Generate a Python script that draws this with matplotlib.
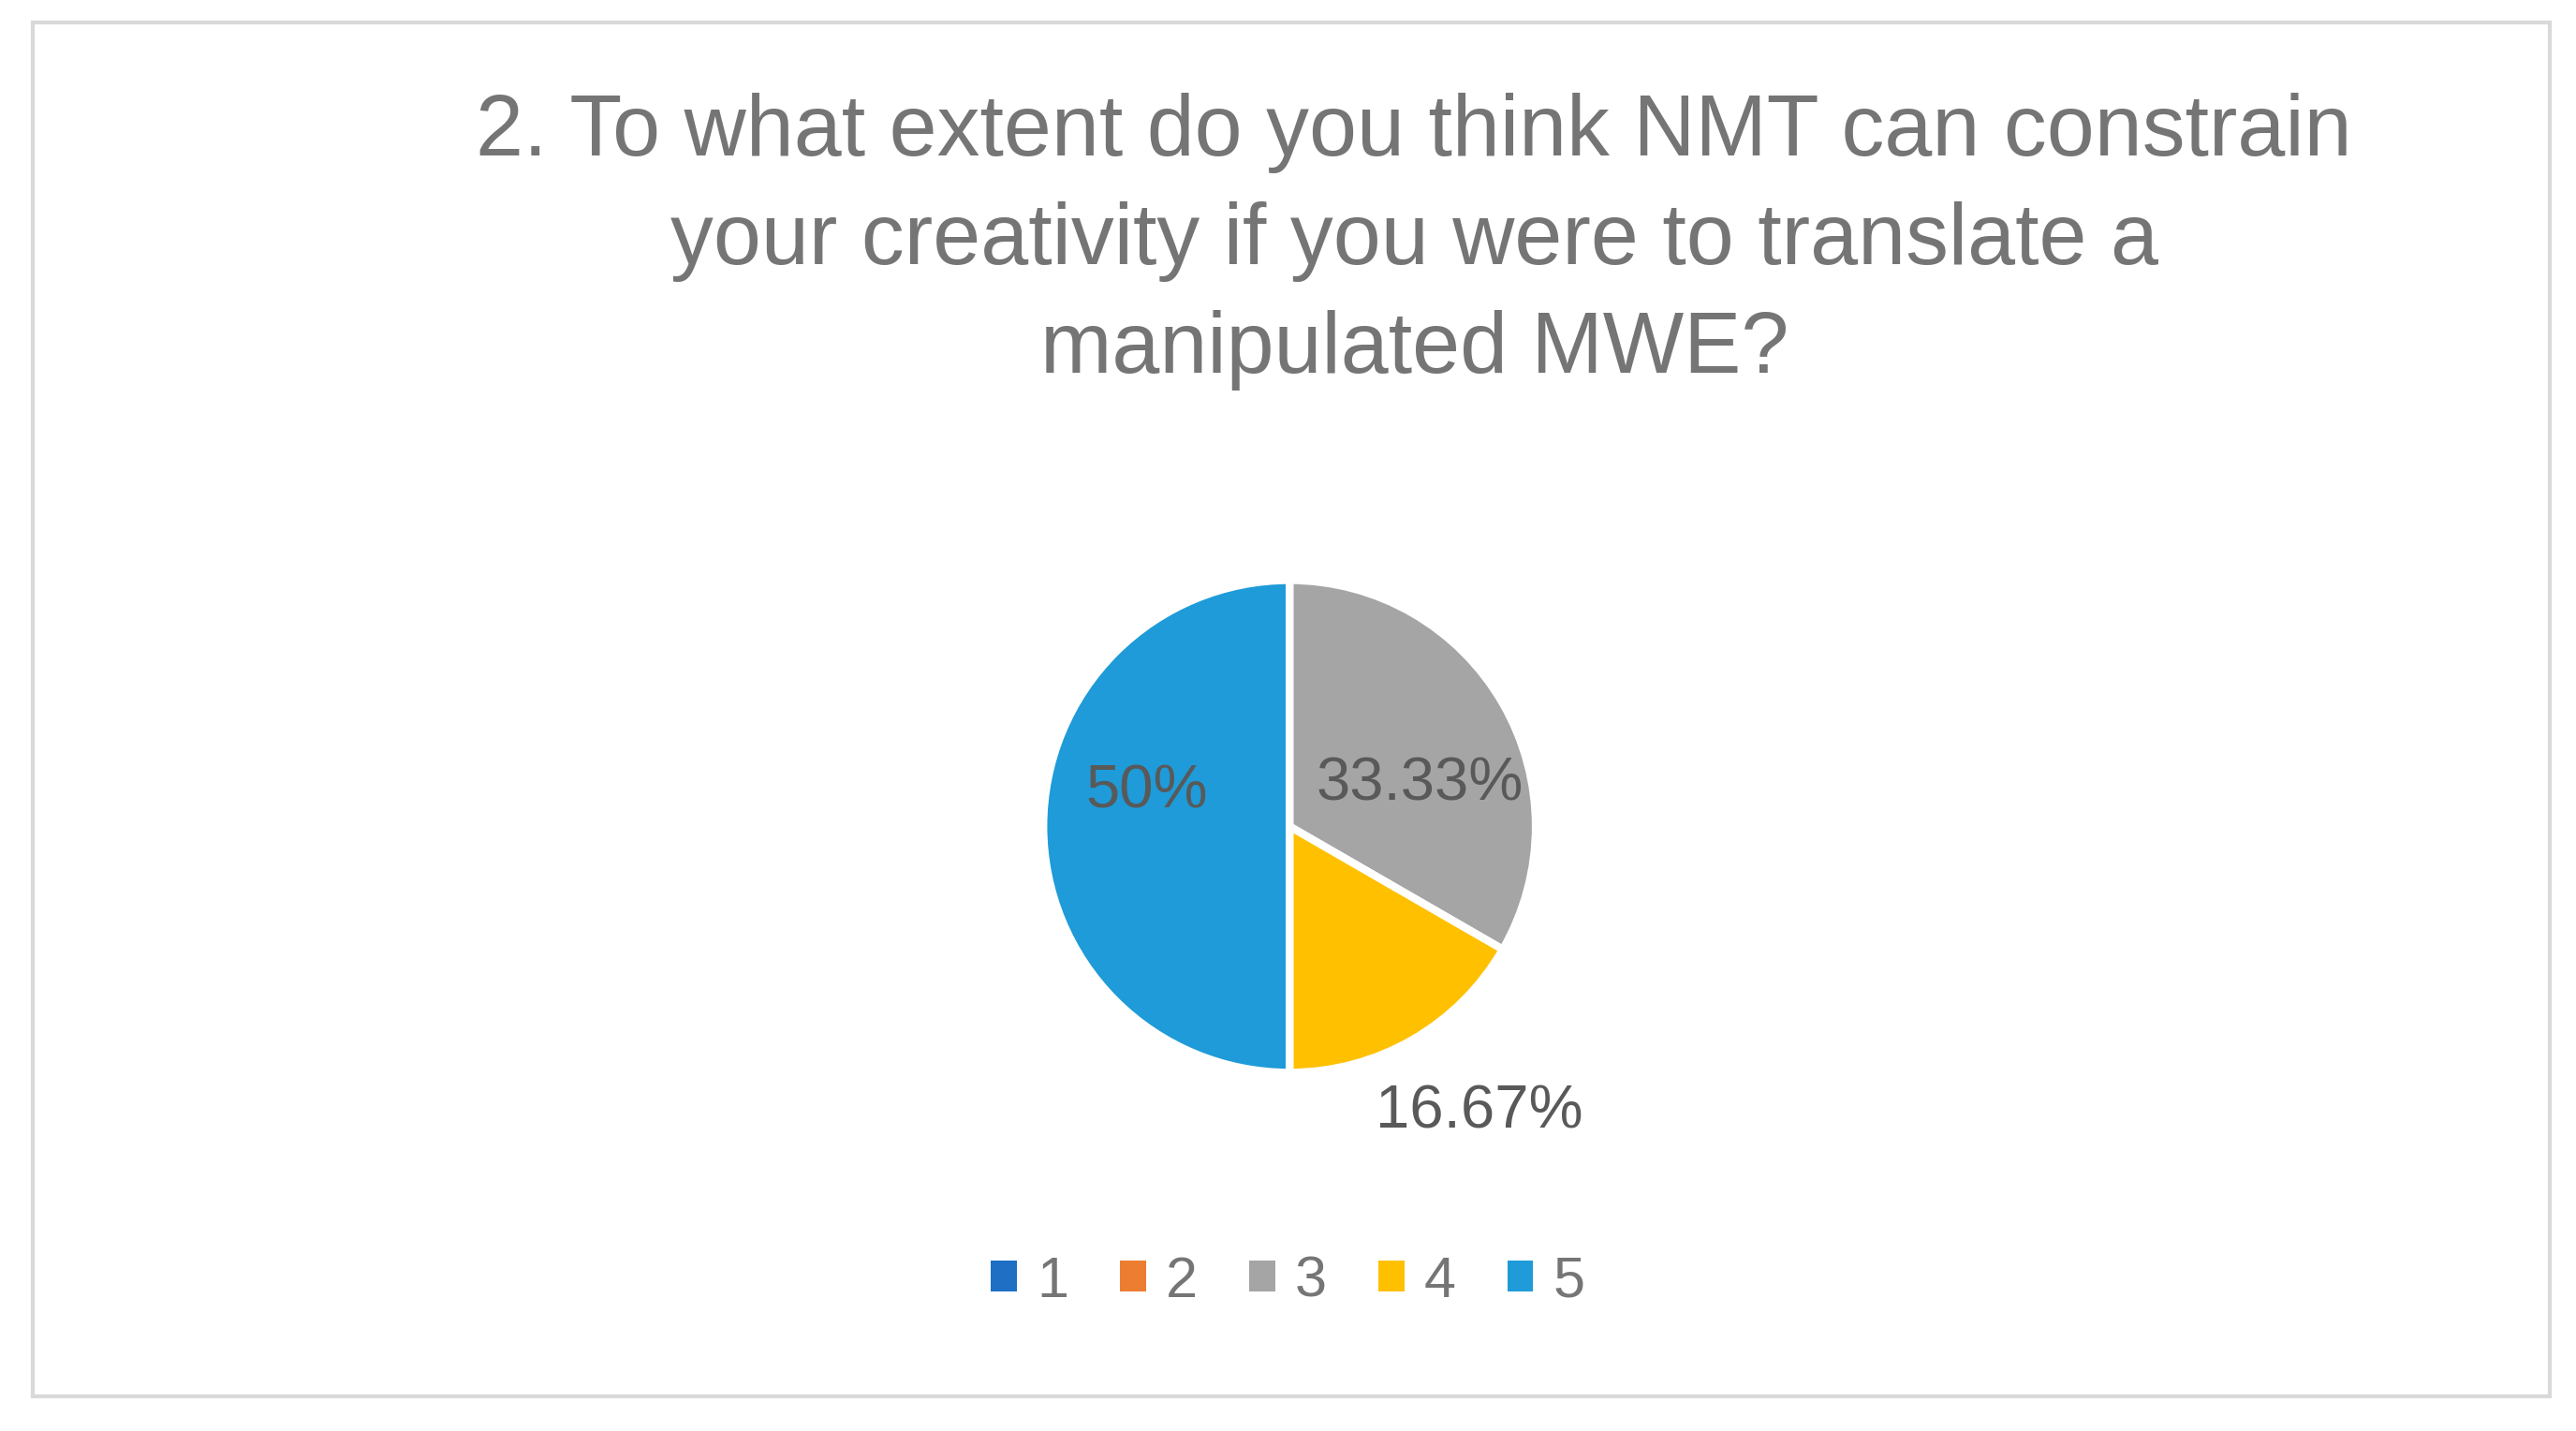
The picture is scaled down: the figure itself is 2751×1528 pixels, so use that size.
import matplotlib as mpl

mpl.use("Agg")

import matplotlib.pyplot as plt
from matplotlib.patches import Rectangle, Patch

CATEGORIES = ["1", "2", "3", "4", "5"]
SHARES = [0.0, 0.0, 33.33, 16.67, 50.0]
LABELS = ["", "", "33.33%", "16.67%", "50%"]
COLORS = ["#1F6FC5", "#ED7D31", "#A5A5A5", "#FFC000", "#1E9BD8"]
TITLE = "2. To what extent do you think NMT can constrain\nyour creativity if you were to translate a\nmanipulated MWE?"
TEXT_COLOR = "#757575"

plt.rcParams["font.family"] = ["Liberation Sans", "DejaVu Sans"]

fig = plt.figure(figsize=(27.51, 15.28), dpi=100)
fig.patches.append(Rectangle((0.0128, 0.024), 0.977, 0.96, transform=fig.transFigure,
                             fill=False, edgecolor="#D9D9D9", linewidth=3))

fig.text(0.549, 0.831, TITLE, ha="center", va="center", fontsize=66,
         color=TEXT_COLOR, linespacing=1.45)

ax = fig.add_axes([0.5006 - 0.0975, 0.4225 - 0.1755, 0.195, 0.351])
nz = [(s, c, l) for s, c, l in zip(SHARES, COLORS, LABELS) if s > 0]
wedges, _ = ax.pie([s for s, _, _ in nz], colors=[c for _, c, _ in nz],
                   startangle=90, counterclock=False,
                   wedgeprops=dict(edgecolor="white", linewidth=6))
ax.set_xlim(-1.02, 1.02)
ax.set_ylim(-1.02, 1.02)
ax.set_aspect("equal")

label_pos = {"33.33%": (0.53, 0.17), "16.67%": (0.77, -1.16), "50%": (-0.58, 0.14)}
for _, _, l in nz:
    ax.text(*label_pos[l], l, ha="center", va="center", fontsize=47, color="#595959")

handles = [Patch(facecolor=c, edgecolor="none") for c in COLORS]
fig.legend(handles, CATEGORIES, loc="center", bbox_to_anchor=(0.5, 0.104), ncol=5,
           frameon=False, fontsize=44, handlelength=0.45, handleheight=0.45,
           handletextpad=0.35, columnspacing=0.9, labelcolor=TEXT_COLOR)

fig.savefig("out.png", dpi=100, facecolor="white")
